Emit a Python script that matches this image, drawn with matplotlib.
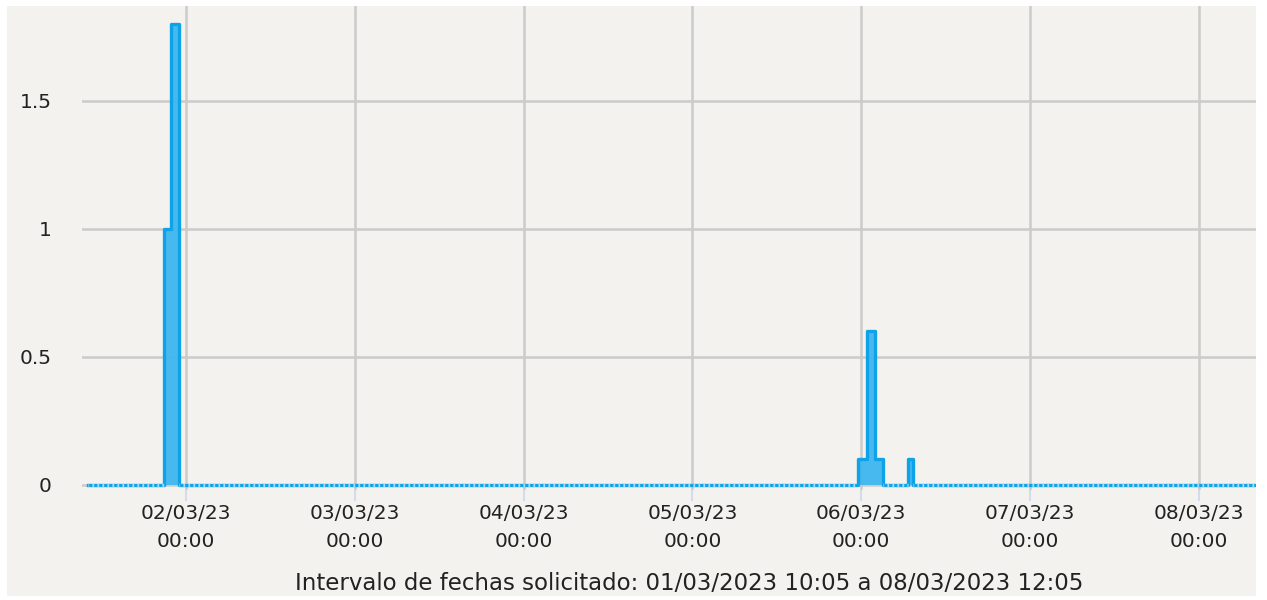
import matplotlib
matplotlib.use('Agg')
import matplotlib.pyplot as plt
import matplotlib.dates as mdates
from matplotlib.patches import Rectangle
from datetime import datetime

plt.rcParams['lines.scale_dashes'] = False

# readings (step series: value holds until the next timestamp)
times = ["2023-03-01 10:05", "2023-03-01 20:50", "2023-03-01 21:50", "2023-03-01 23:05",
         "2023-03-05 23:35", "2023-03-06 00:45", "2023-03-06 02:00", "2023-03-06 03:05",
         "2023-03-06 06:40", "2023-03-06 07:25", "2023-03-08 12:05"]
values = [0, 1.0, 1.8, 0, 0.1, 0.6, 0.1, 0, 0.1, 0, 0]

tick_days = ["2023-03-02", "2023-03-03", "2023-03-04", "2023-03-05",
             "2023-03-06", "2023-03-07", "2023-03-08"]
y_ticks = [0, 0.5, 1, 1.5]
y_labels = ["0", "0.5", "1", "1.5"]
caption = "Intervalo de fechas solicitado: 01/03/2023 10:05 a 08/03/2023 12:05"

t = [datetime.strptime(s, "%Y-%m-%d %H:%M") for s in times]
ticks = [datetime.strptime(s, "%Y-%m-%d") for s in tick_days]

W, H = 1267, 600
bg = '#f3f2ef'
fig = plt.figure(figsize=(W / 100, H / 100), dpi=100, facecolor='white')
fig.patches.append(Rectangle((7 / W, 4 / H), (1256 - 7) / W, (594 - 4) / H,
                             transform=fig.transFigure, facecolor=bg, edgecolor='none', zorder=-5))

# axes bottom a few px under the zero line so the baseline is not cut
px_per_unit = 256.0
ax = fig.add_axes([82 / W, 1 - 490 / H, (1256 - 82) / W, (490 - 6) / H])
ax.set_facecolor(bg)
for s in ax.spines.values():
    s.set_visible(False)

ax.fill_between(t, values, 0, step='post', color='#3fb6ee', alpha=0.95, linewidth=0, zorder=3)
ax.step(t, values, where='post', color='#0ea2e8', linewidth=2.4, zorder=4)
# dotted look of the zero stretches: light gaps over the dark line
for i in range(len(t) - 1):
    if values[i] == 0:
        ax.plot([t[i], t[i + 1]], [0, 0], color='#a6dbf6', linewidth=2.5,
                linestyle=(0.8, (1.3, 2.3)), zorder=5)

ax.set_xlim(datetime(2023, 3, 1, 9, 14), datetime(2023, 3, 8, 8, 6))
ax.set_ylim(-5 / px_per_unit, (485 - 6) / px_per_unit)

ax.set_xticks(ticks)
ax.xaxis.set_major_formatter(mdates.DateFormatter('%d/%m/%y\n%H:%M'))
ax.set_yticks(y_ticks)
ax.set_yticklabels(y_labels)

ax.grid(True, color='#cbcbcb', linewidth=1.8, zorder=1)
ax.set_axisbelow(True)
ax.tick_params(axis='x', length=8, width=1.5, color='#d2dcee', pad=2,
               labelsize=14.5, labelcolor='#222222')
ax.tick_params(axis='y', length=0, pad=22, labelsize=14.5, labelcolor='#222222')
for lab in ax.get_xticklabels():
    lab.set_linespacing(1.6)

fig.text(689.5 / W, 1 - 583 / H, caption, ha='center', va='center',
         fontsize=16.5, color='#222222')

fig.savefig('out.png', dpi=100, facecolor='white')
